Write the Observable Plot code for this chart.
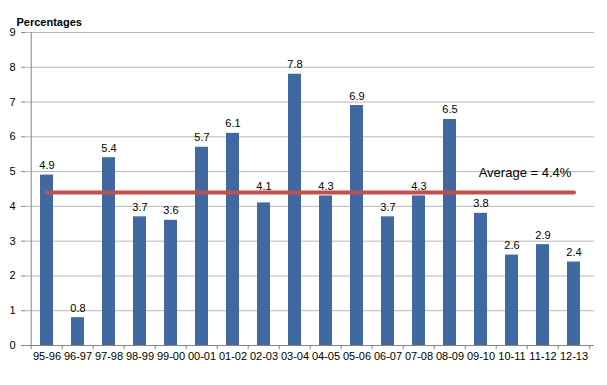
<!DOCTYPE html>
<html>
<head>
<meta charset="utf-8">
<script src="https://cdn.jsdelivr.net/npm/d3@7"></script>
<script src="https://cdn.jsdelivr.net/npm/@observablehq/plot@0.6"></script>
<style>
  html, body { margin: 0; padding: 0; background: #fff; }
  svg { display: block; }
</style>
</head>
<body>
<div id="chart"></div>
<script>
const categories = ["95-96","96-97","97-98","98-99","99-00","00-01","01-02","02-03","03-04","04-05","05-06","06-07","07-08","08-09","09-10","10-11","11-12","12-13"];
const values = [4.9,0.8,5.4,3.7,3.6,5.7,6.1,4.1,7.8,4.3,6.9,3.7,4.3,6.5,3.8,2.6,2.9,2.4];
const average = 4.4;
const averageLabel = "Average = 4.4%";
const yTicks = [0,1,2,3,4,5,6,7,8,9];
const yTitle = "Percentages";

const data = categories.map((c, i) => ({cat: c, value: values[i]}));
const W = 607, H = 385;
const ml = 25, mr = 13, mt = 32, mb = 40;
const step = (W - ml - mr) / categories.length;
const font = "Liberation Sans, Arial, sans-serif";
// labels that would collide with the average line are lifted above it
const labelY = d => (d.value < average && d.value > average - 0.6) ? average - 0.1 : d.value;

const chart = Plot.plot({
  width: W,
  height: H,
  marginLeft: ml,
  marginRight: mr,
  marginTop: mt,
  marginBottom: mb,
  style: {fontFamily: font, fontSize: "11px", color: "#000", background: "#fff"},
  x: {domain: categories, paddingInner: 0.59, paddingOuter: 0.295, label: null},
  y: {domain: [0, 9], label: null},
  marks: [
    Plot.gridY(yTicks, {stroke: "#b8b8b8", strokeOpacity: 1, strokeWidth: 1}),
    Plot.barY(data, {x: "cat", y: "value", fill: "#4068a1"}),
    Plot.ruleY([0], {stroke: "#868686"}),
    Plot.ruleX([categories[0]], {dx: -step / 2, stroke: "#868686"}),
    Plot.ruleX(categories, {x: d => d, y1: 0, y2: -0.12, dx: -step / 2, stroke: "#868686"}),
    Plot.ruleX([categories[categories.length - 1]], {y1: 0, y2: -0.12, dx: step / 2, stroke: "#868686"}),
    Plot.axisY(yTicks, {tickSize: 4, tickPadding: 6, stroke: "#868686", fill: "#000", fontSize: 11, label: null}),
    Plot.axisX({tickSize: 0, tickPadding: 7, fill: "#000", fontSize: 11, label: null}),
    Plot.lineY([categories[0], categories[categories.length - 1]], {x: d => d, y: () => average, stroke: "#c0504d", strokeWidth: 4}),
    Plot.text(data, {x: "cat", y: labelY, text: d => d.value.toFixed(1), lineAnchor: "bottom", dy: -6, fill: "#000", fontSize: 11}),
    Plot.text([averageLabel], {x: () => categories[15], y: () => average, text: d => d, dx: 13, dy: -20, fill: "#000", fontSize: 13, style: "letter-spacing:0.4px"}),
    Plot.text([yTitle], {frameAnchor: "top-left", dx: -9, dy: -14, text: d => d, fontWeight: "bold", fontSize: 11, textAnchor: "start", fill: "#000"})
  ]
});
document.getElementById("chart").appendChild(chart);
</script>
</body>
</html>
